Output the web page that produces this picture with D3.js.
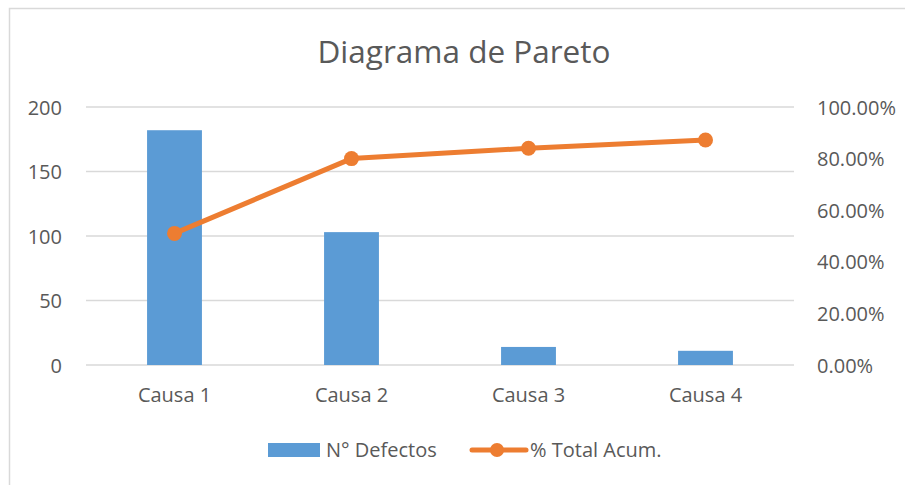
<!DOCTYPE html>
<html>
<head>
<meta charset="utf-8">
<script src="https://cdn.jsdelivr.net/npm/d3@7"></script>
<style>
  body { margin: 0; background: #fff; }
  text { font-family: "Open Sans", "Noto Sans", sans-serif; fill: #595959; }
</style>
</head>
<body>
<script>
// chart data
const categories = ["Causa 1", "Causa 2", "Causa 3", "Causa 4"];
const defectos = [182, 103, 14, 11];
const acumulado = [0.51, 0.80, 0.84, 0.872];
const leftTicks = [0, 50, 100, 150, 200];
const rightTicks = [0, 0.2, 0.4, 0.6, 0.8, 1];

const width = 905;
const height = 485;
const plot = { left: 86, right: 794, top: 107, bottom: 365 };

const svg = d3.select("body")
  .append("svg")
  .attr("width", width)
  .attr("height", height);

// chart border (runs off the right/bottom edge like the screenshot)
svg.append("rect")
  .attr("x", 9.5).attr("y", 8.5)
  .attr("width", 1000).attr("height", 1000)
  .attr("fill", "none")
  .attr("stroke", "#d9d9d9")
  .attr("stroke-width", 1.5);

const x = d3.scaleBand()
  .domain(categories)
  .range([plot.left, plot.right]);

const yLeft = d3.scaleLinear().domain([0, 200]).range([plot.bottom, plot.top]);
const yRight = d3.scaleLinear().domain([0, 1]).range([plot.bottom, plot.top]);

// gridlines
svg.append("g")
  .selectAll("line")
  .data(leftTicks)
  .enter()
  .append("line")
  .attr("x1", plot.left).attr("x2", plot.right)
  .attr("y1", d => yLeft(d)).attr("y2", d => yLeft(d))
  .attr("stroke", "#d9d9d9")
  .attr("stroke-width", 1.3);

// left axis
const leftAxis = svg.append("g")
  .attr("transform", `translate(${plot.left - 24},0)`)
  .call(d3.axisLeft(yLeft).tickValues(leftTicks).tickSize(0).tickPadding(0));
leftAxis.select(".domain").remove();
leftAxis.selectAll("text").style("font-size", "20px").attr("fill", "#595959").attr("dy", "0.35em");

// right axis
const rightAxis = svg.append("g")
  .attr("transform", `translate(${plot.right + 23},0)`)
  .call(d3.axisRight(yRight).tickValues(rightTicks).tickSize(0).tickPadding(0)
    .tickFormat(d3.format(".2%")));
rightAxis.select(".domain").remove();
rightAxis.selectAll("text").style("font-size", "20px").attr("fill", "#595959").attr("dy", "0.35em");

// bars
const barW = x.bandwidth() * 0.31;
svg.append("g")
  .selectAll("rect")
  .data(defectos)
  .enter()
  .append("rect")
  .attr("x", (d, i) => x(categories[i]) + x.bandwidth() / 2 - barW / 2)
  .attr("y", d => yLeft(d))
  .attr("width", barW)
  .attr("height", d => yLeft(0) - yLeft(d))
  .attr("fill", "#5b9bd5");

// cumulative line
const line = d3.line()
  .x((d, i) => x(categories[i]) + x.bandwidth() / 2)
  .y(d => yRight(d));

svg.append("path")
  .datum(acumulado)
  .attr("d", line)
  .attr("fill", "none")
  .attr("stroke", "#ed7d31")
  .attr("stroke-width", 5)
  .attr("stroke-linejoin", "round");

svg.append("g")
  .selectAll("circle")
  .data(acumulado)
  .enter()
  .append("circle")
  .attr("cx", (d, i) => x(categories[i]) + x.bandwidth() / 2)
  .attr("cy", d => yRight(d))
  .attr("r", 7.5)
  .attr("fill", "#ed7d31");

// category labels
const xAxis = svg.append("g")
  .attr("transform", `translate(0,${plot.bottom + 23})`)
  .call(d3.axisBottom(x).tickSize(0).tickPadding(0));
xAxis.select(".domain").remove();
xAxis.selectAll("text").style("font-size", "20px").attr("fill", "#595959").attr("dy", "0.71em");

// title
svg.append("text")
  .attr("x", 464)
  .attr("y", 63)
  .attr("text-anchor", "middle")
  .style("font-size", "31.5px")
  .text("Diagrama de Pareto");

// legend
const legend = svg.append("g");
legend.append("rect")
  .attr("x", 268).attr("y", 443)
  .attr("width", 52).attr("height", 14)
  .attr("fill", "#5b9bd5");
legend.append("text")
  .attr("x", 326).attr("y", 457)
  .style("font-size", "20px")
  .text("N° Defectos");
legend.append("line")
  .attr("x1", 472).attr("x2", 526)
  .attr("y1", 450).attr("y2", 450)
  .attr("stroke", "#ed7d31")
  .attr("stroke-width", 5)
  .attr("stroke-linecap", "round");
legend.append("circle")
  .attr("cx", 497).attr("cy", 450)
  .attr("r", 7)
  .attr("fill", "#ed7d31");
legend.append("text")
  .attr("x", 530).attr("y", 457)
  .style("font-size", "20px")
  .text("% Total Acum.");
</script>
</body>
</html>
